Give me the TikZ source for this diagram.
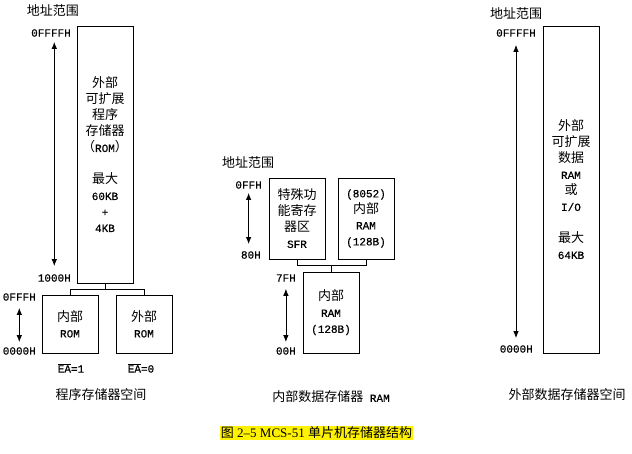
\documentclass[tikz,border=0pt]{standalone}
\usepackage{fontspec}
\usepackage{tikz}
\usetikzlibrary{arrows.meta}
\setmainfont{Liberation Serif}
\setmonofont[FakeBold=0.6]{Liberation Mono}
\newfontfamily\cjk{Noto Sans CJK SC}
\newcommand\zh[1]{{\cjk\fontsize{13}{16}\selectfont #1}}
\tikzset{
  membox/.style={draw, line width=0.8pt, minimum width=56pt, align=center, inner sep=0pt},
  addr/.style={anchor=east, inner sep=1pt},
  dbl/.style={{Latex[length=7pt,width=5.5pt]}-{Latex[length=7pt,width=5.5pt]}, line width=0.8pt},
}

\begin{document}
\begin{tikzpicture}[x=1pt, y=-1pt, font=\ttfamily\fontsize{11}{16}\selectfont]
        \useasboundingbox (0,0) rectangle (632,454);
        % program memory
        \node (ptitle) at (53,11) {\zh{地址范围}};
        \node[membox, minimum height=257pt] (prog) at (105,154.5)
            {\zh{外部}\\\zh{可扩展}\\\zh{程序}\\\zh{存储器}\\\zh{（}ROM\zh{）}\\[16pt]\zh{最大}\\60KB\\+\\4KB};
        \node[membox, minimum height=58pt] (irom) at (70,324) {\zh{内部}\\ROM};
        \node[membox, minimum height=58pt] (xrom) at (144,324) {\zh{外部}\\ROM};
        \node[addr] (phi) at (72,33) {0FFFFH};
        \node[addr] (p1000) at (72,278) {1000H};
        \node[addr] (q0fff) at (37,297) {0FFFH};
        \node[addr] (q0000) at (37,351) {0000H};
        \draw[dbl, shorten <=4pt, shorten >=7pt] (phi.south -| p1000) -- (p1000.north);
        \draw[dbl, shorten <=6pt, shorten >=4pt] (q0fff.south) -- (q0000.north);
        \draw[line width=0.8pt] (prog.south) -- ++(0,6) coordinate (pj);
        \draw[line width=0.8pt] (irom.north) |- (pj) -| (xrom.north);
        \node (ea1) at (71,368) {$\overline{\mbox{EA}}$=1};
        \node (ea0) at (141,368) {$\overline{\mbox{EA}}$=0};
        \node (pname) at (101,395) {\zh{程序存储器空间}};
        % internal data memory
        \node (dtitle) at (248,163) {\zh{地址范围}};
        \node[membox, minimum height=81pt] (sfr) at (297,218.5)
            {\zh{特殊功}\\\zh{能寄存}\\\zh{器区}\\SFR};
        \node[membox, minimum height=81pt] (ram52) at (366,218.5)
            {(8052)\\\zh{内部}\\RAM\\(128B)};
        \node[membox, minimum height=81pt] (iram) at (331,312.5)
            {\zh{内部}\\RAM\\(128B)};
        \node[addr] (d0ff) at (263,185) {0FFH};
        \node[addr] (d80) at (262,255) {80H};
        \node[addr] (d7f) at (297,278) {7FH};
        \node[addr] (d00) at (297,351) {00H};
        \draw[dbl, shorten <=3pt, shorten >=6pt] (d0ff.south) -- (d80.north -| d0ff);
        \draw[dbl, shorten <=6pt, shorten >=4pt] (d7f.south) -- (d00.north);
        \draw[line width=0.8pt] (iram.north) -- ++(0,-6) coordinate (rj);
        \draw[line width=0.8pt] (sfr.south) |- (rj) -| (ram52.south);
        \node (dname) at (331,397) {\zh{内部数据存储器} RAM};
        % external data memory
        \node (xtitle) at (516,13.5) {\zh{地址范围}};
        \node[membox, minimum height=327pt] (xram) at (571,189.5)
            {\zh{外部}\\\zh{可扩展}\\\zh{数据}\\RAM\\\zh{或}\\I/O\\[16pt]\zh{最大}\\64KB};
        \node[addr] (xhi) at (537,33) {0FFFFH};
        \node[addr] (xlo) at (534,349) {0000H};
        \draw[dbl, shorten <=7pt, shorten >=6pt] (xhi.south) -- (xlo.north -| xhi);
        \node (xname) at (567,395) {\zh{外部数据存储器空间}};
        % caption
        \node[fill=yellow, inner sep=1pt, font=\rmfamily\fontsize{13}{14}\selectfont] (cap) at (316.5,433)
            {\zh{图} 2–5 MCS-51 \zh{单片机存储器结构}};
\end{tikzpicture}
\end{document}
